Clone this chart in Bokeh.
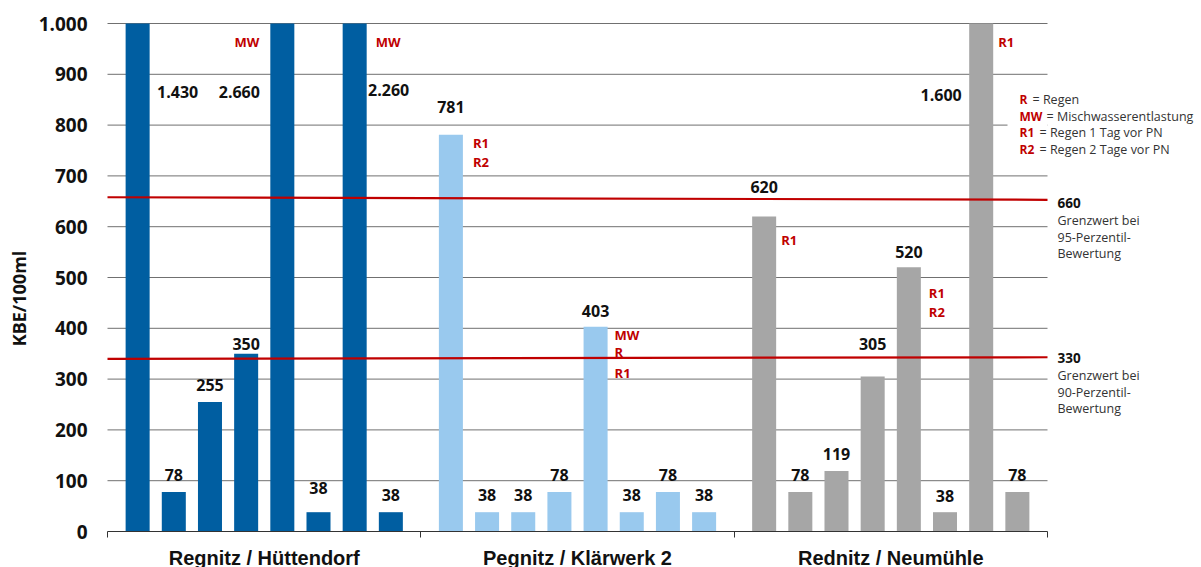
import math
from bokeh.plotting import figure
from bokeh.models import ColumnDataSource, FixedTicker, Label, BoxAnnotation, CustomJSTickFormatter
from bokeh.core.properties import value
from bokeh.embed import file_html
from bokeh.resources import INLINE

# ---------------- data ----------------
groups = ["Regnitz / Hüttendorf", "Pegnitz / Klärwerk 2", "Rednitz / Neumühle"]
regnitz = [1430, 78, 255, 350, 2660, 38, 2260, 38]
pegnitz = [781, 38, 38, 78, 403, 38, 78, 38]
rednitz = [620, 78, 119, 305, 520, 38, 1600, 78]
series = [regnitz, pegnitz, rednitz]
y_ticks = [0, 100, 200, 300, 400, 500, 600, 700, 800, 900, 1000]
y_max = 1000
thresholds = [660, 330]
threshold_texts = [["Grenzwert bei", "95-Perzentil-", "Bewertung"],
                   ["Grenzwert bei", "90-Perzentil-", "Bewertung"]]
# threshold lines as drawn in the picture (start value, end value)
threshold_line_start = [658, 340]
threshold_line_end = [653, 343]
# event notes: (group, bar, lines)
notes = [(0, 4, ["MW"]), (0, 6, ["MW"]), (1, 0, ["R1", "R2"]),
         (1, 4, ["MW", "R", "R1"]), (2, 0, ["R1"]), (2, 4, ["R1", "R2"]),
         (2, 6, ["R1"])]
legend_keys = ["R", "MW", "R1", "R2"]
legend_texts = ["= Regen", "= Mischwasserentlastung", "= Regen 1 Tag vor PN",
                "= Regen 2 Tage vor PN"]

# ---------------- styles / layout ----------------
colors = ["#005ea1", "#99c9ee", "#a6a6a6"]
RED = "#c00000"
GRID = "#707070"
NUM_FONT = "Open Sans"
GRP_FONT = "Liberation Sans"
W, H = 1201, 567
PLOT_L, PLOT_R, PLOT_T, PLOT_B = 107, 1047, 23, 531
STRIDE = 8.66
PAD = 0.333
X_START = -0.5 - PAD
X_END = 2 * STRIDE + 7 + 0.5 + PAD
PXU = (PLOT_R - PLOT_L) / (X_END - X_START)
PYU = (PLOT_B - PLOT_T) / y_max


def px_x(px):
    return X_START + (px - PLOT_L) / PXU


def px_y(py):
    return (PLOT_B - py) / PYU


def dx(px):
    return px / PXU


# value label layout: screen y centre and x shift (px)
label_py = [[91, 474, 384, 343, 91, 487, 89, 494],
            [106, 494, 494, 474, 310, 494, 474, 494],
            [186, 474, 453, 343, 251, 495, 94, 474]]
label_dx = [[40, 0, 0, 0, -43, 0, 34, 0],
            [0, 0, 0, 0, 0, 0, 0, 0],
            [0, 0, 0, 0, 0, 0, -40, 0]]
note_py = [[41], [41], [142, 161], [334, 351, 372], [239], [292, 311], [41]]
note_dx = [-11, 9, 10, 7, 5, 8, 5]

# frame covers the whole canvas; axes are placed at fixed locations
p = figure(width=W, height=H, output_backend="svg", toolbar_location=None,
           x_range=(px_x(0), px_x(W)), y_range=(px_y(H), px_y(0)),
           min_border=0, min_border_left=0, min_border_right=0,
           min_border_top=0, min_border_bottom=0)
p.outline_line_color = None
p.background_fill_color = "white"
p.border_fill_color = "white"
p.xgrid.visible = False
p.ygrid.visible = False

# horizontal grid lines (within the plot area only)
grid_vals = y_ticks[1:]
p.segment(x0=[X_START] * len(grid_vals), x1=[X_END] * len(grid_vals),
          y0=grid_vals, y1=grid_vals, line_color=GRID, line_width=1)

# y axis
p.yaxis.fixed_location = X_START
p.yaxis.bounds = (0, y_max)
p.yaxis.ticker = FixedTicker(ticks=y_ticks)
p.yaxis.major_label_overrides = {t: f"{t:,}".replace(",", ".") for t in y_ticks}
p.yaxis.axis_line_color = None
p.yaxis.major_tick_line_color = None
p.yaxis.minor_tick_line_color = None
p.yaxis.major_tick_out = 0
p.yaxis.major_tick_in = 0
p.yaxis.major_label_standoff = 20
p.yaxis.major_label_text_font = NUM_FONT
p.yaxis.major_label_text_font_style = "bold"
p.yaxis.major_label_text_font_size = "19px"
p.yaxis.major_label_text_color = "#111111"

# x axis: group names at centres, separators as minor ticks
centers = [g * STRIDE + 3.5 for g in range(len(groups))]
bounds = [X_START] + [g * STRIDE + 7 + (STRIDE - 7) / 2 for g in range(len(groups) - 1)] + [X_END]
p.xaxis.fixed_location = 0
p.xaxis.bounds = (X_START, X_END)
p.xaxis.ticker = FixedTicker(ticks=centers, minor_ticks=bounds)
p.xaxis.formatter = CustomJSTickFormatter(args=dict(names=groups, stride=STRIDE), code="""
    const i = Math.round((tick - 3.5) / stride);
    return names[i];
""")
p.xaxis.axis_line_color = "#333333"
p.xaxis.axis_line_width = 1
p.xaxis.major_tick_out = 0
p.xaxis.major_tick_in = 0
p.xaxis.major_tick_line_color = None
p.xaxis.minor_tick_out = 6
p.xaxis.minor_tick_in = 0
p.xaxis.minor_tick_line_color = "#333333"
p.xaxis.major_label_standoff = 9
p.xaxis.major_label_text_font = GRP_FONT
p.xaxis.major_label_text_font_style = "bold"
p.xaxis.major_label_text_font_size = "20px"
p.xaxis.major_label_text_color = "#111111"

# bars and value labels
for g, vals in enumerate(series):
    xs = [g * STRIDE + i for i in range(len(vals))]
    tops = [min(v, y_max) for v in vals]
    src = ColumnDataSource(dict(x=xs, top=tops))
    p.vbar(x="x", top="top", bottom=0, width=0.664, source=src,
           fill_color=colors[g], line_color=None)
    lab = ColumnDataSource(dict(
        x=[x + dx(d) for x, d in zip(xs, label_dx[g])],
        y=[px_y(py) for py in label_py[g]],
        t=[f"{v:,}".replace(",", ".") for v in vals]))
    p.text(x="x", y="y", text="t", source=lab, text_align="center",
           text_baseline="middle", text_font=value(NUM_FONT),
           text_font_style="bold", text_font_size="16px", text_color="#111111")

# threshold lines
p.segment(x0=[X_START] * 2, x1=[X_END] * 2, y0=threshold_line_start,
          y1=threshold_line_end, line_color=RED, line_width=2.2)

# notes next to bars
half = 0.664 / 2
for k, (g, i, lines) in enumerate(notes):
    bx = g * STRIDE + i
    if note_dx[k] < 0:
        x = bx - half + dx(note_dx[k])
        align = "right"
    else:
        x = bx + half + dx(note_dx[k])
        align = "left"
    p.text(x=[x] * len(lines), y=[px_y(py) for py in note_py[k]], text=lines,
           text_align=align, text_baseline="middle", text_font=value(NUM_FONT),
           text_font_style="bold", text_font_size="13px", text_color=RED)

# legend box (white background hiding a gridline) and legend text
p.add_layout(BoxAnnotation(left=px_x(1007), right=X_END, top=px_y(86), bottom=px_y(160),
                           fill_color="white", fill_alpha=1.0, line_color=None))
legend_py = [99, 116, 132, 149]
rest_px = [1032, 1046, 1039, 1039]
for k in range(len(legend_keys)):
    p.add_layout(Label(x=px_x(1019), y=px_y(legend_py[k]), text=legend_keys[k],
                       text_font=NUM_FONT, text_font_style="bold", text_font_size="12px",
                       text_color=RED, text_align="left", text_baseline="middle"))
    p.add_layout(Label(x=px_x(rest_px[k]), y=px_y(legend_py[k]), text=legend_texts[k],
                       text_font=NUM_FONT, text_font_size="12.5px",
                       text_color="#333333", text_align="left", text_baseline="middle"))

# threshold annotations right of the plot
thr_py = [202, 357]
for k, t in enumerate(thresholds):
    p.add_layout(Label(x=px_x(1057), y=px_y(thr_py[k]), text=str(t),
                       text_font=NUM_FONT, text_font_style="bold", text_font_size="13.5px",
                       text_color="#111111", text_align="left", text_baseline="middle"))
    for j, line in enumerate(threshold_texts[k]):
        p.add_layout(Label(x=px_x(1057), y=px_y(thr_py[k] + 18 + 16.5 * j), text=line,
                           text_font=NUM_FONT, text_font_size="12.5px",
                           text_color="#333333", text_align="left", text_baseline="middle"))

# y axis title
p.add_layout(Label(x=px_x(18), y=px_y(298), text="KBE/100ml", angle=math.pi / 2,
                   text_font=NUM_FONT, text_font_style="bold", text_font_size="18px",
                   text_color="#111111", text_align="center", text_baseline="middle"))

open("out.html", "w").write(file_html(p, INLINE))
